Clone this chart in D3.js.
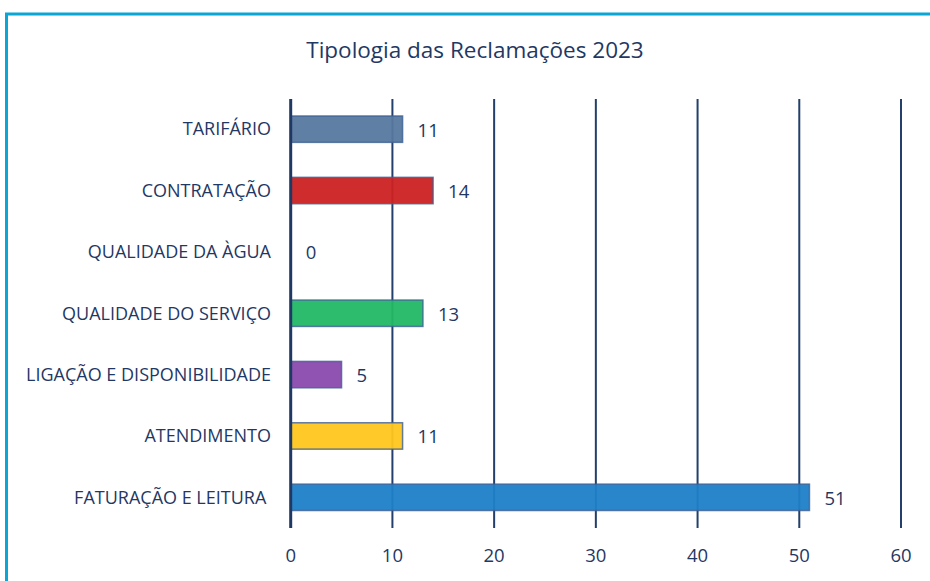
<!DOCTYPE html>
<html>
<head>
<meta charset="utf-8">
<script src="https://cdn.jsdelivr.net/npm/d3@7"></script>
<style>
  body { margin: 0; background: #fff; }
  svg text { font-family: "Open Sans", sans-serif; fill: #1f3864; white-space: pre; }
</style>
</head>
<body>
<svg id="chart" width="930" height="581"></svg>
<script>
(function() {

  'use strict';

  // data
  var categories = ['TARIFÁRIO', 'CONTRATAÇÃO', 'QUALIDADE DA ÀGUA', 'QUALIDADE DO SERVIÇO',
    'LIGAÇÃO E DISPONIBILIDADE', 'ATENDIMENTO', 'FATURAÇÃO E LEITURA '];
  var values = [11, 14, 0, 13, 5, 11, 51];
  var colours = ['#56789f', '#cc2222', '#4472c4', '#22b866', '#8a4aae', '#ffc61e', '#1f7fc7'];
  var ticks = [0, 10, 20, 30, 40, 50, 60];
  var title = 'Tipologia das Reclamações 2023';

  var svg = d3.select('#chart');
  var navy = '#1f3864';

  // frame lines, top and left
  svg.append('line').attr('x1', 5).attr('x2', 930).attr('y1', 14).attr('y2', 14)
    .attr('stroke', '#0aa6d4').attr('stroke-width', 3);
  svg.append('line').attr('x1', 6.5).attr('x2', 6.5).attr('y1', 13).attr('y2', 581)
    .attr('stroke', '#0aa6d4').attr('stroke-width', 3);

  svg.append('text')
    .attr('x', 475).attr('y', 58)
    .attr('text-anchor', 'middle')
    .style('font-size', '22.5px')
    .text(title);

  var x = d3.scaleLinear().domain([0, 60]).range([290.7, 901]);
  var y = d3.scaleBand().domain(categories).range([98.5, 528])
    .paddingInner(0.57).paddingOuter(0.285);

  // gridlines
  svg.append('g').selectAll('line')
    .data(ticks.slice(1))
    .join('line')
    .attr('x1', function(d) { return x(d); })
    .attr('x2', function(d) { return x(d); })
    .attr('y1', 99).attr('y2', 528)
    .attr('stroke', '#243f6b').attr('stroke-width', 2);

  // bars
  svg.append('g').selectAll('rect')
    .data(values)
    .join('rect')
    .attr('x', x(0))
    .attr('y', function(d, i) { return y(categories[i]); })
    .attr('width', function(d) { return x(d) - x(0); })
    .attr('height', y.bandwidth())
    .attr('fill', function(d, i) { return colours[i]; })
    .attr('fill-opacity', 0.95)
    .attr('stroke', '#3c5f93')
    .attr('stroke-opacity', 0.8)
    .attr('stroke-width', 1.5)
    .style('display', function(d) { return d > 0 ? null : 'none'; });

  // value labels
  svg.append('g').selectAll('text')
    .data(values)
    .join('text')
    .attr('x', function(d) { return x(d) + 15; })
    .attr('y', function(d, i) { return y(categories[i]) + y.bandwidth() / 2 + 1; })
    .attr('dy', '0.35em')
    .style('font-size', '18.5px')
    .text(function(d) { return d; });

  // category labels
  svg.append('g').selectAll('text')
    .data(categories)
    .join('text')
    .attr('x', 271)
    .attr('y', function(d) { return y(d) + y.bandwidth() / 2; })
    .attr('dy', '0.35em')
    .attr('text-anchor', 'end')
    .style('font-size', '18px')
    .text(function(d) { return d; });

  // axis line at zero
  svg.append('line')
    .attr('x1', x(0)).attr('x2', x(0)).attr('y1', 99).attr('y2', 528)
    .attr('stroke', navy).attr('stroke-width', 3);

  // tick labels
  svg.append('g').selectAll('text')
    .data(ticks)
    .join('text')
    .attr('x', function(d) { return x(d); })
    .attr('y', 556)
    .attr('dy', '0.35em')
    .attr('text-anchor', 'middle')
    .style('font-size', '18.5px')
    .text(function(d) { return d; });

})();
</script>
</body>
</html>
